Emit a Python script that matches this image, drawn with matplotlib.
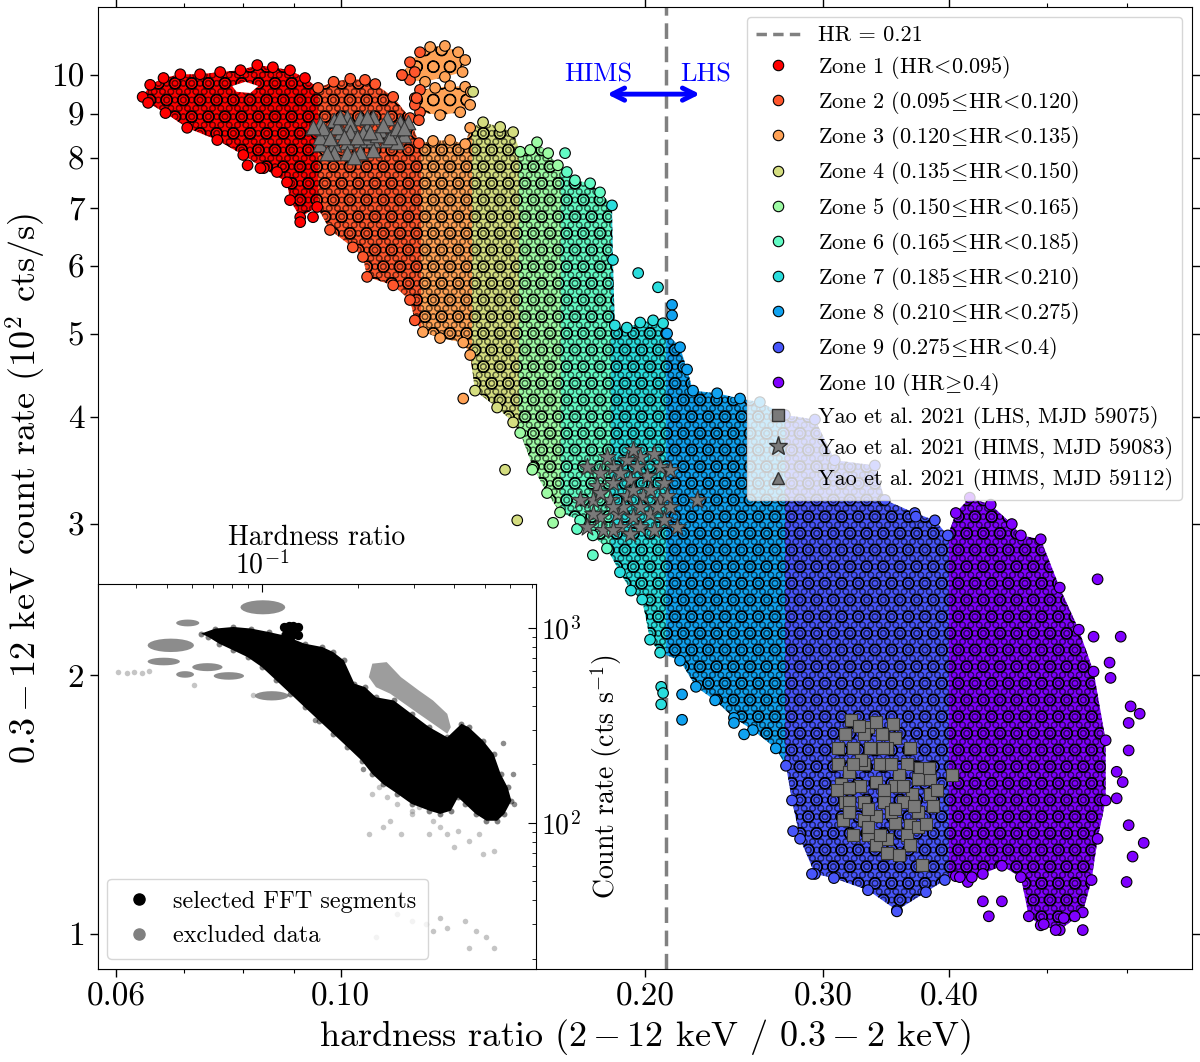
import numpy as np
import matplotlib
matplotlib.use('Agg')
import matplotlib.pyplot as plt
from matplotlib.patches import Polygon
from matplotlib.lines import Line2D
from matplotlib.ticker import NullFormatter, NullLocator

plt.rcParams.update({
    'font.family': ['serif'],
    'font.serif': ['cmr10', 'DejaVu Serif'],
    'mathtext.fontset': 'cm',
    'axes.formatter.use_mathtext': True,
    'axes.unicode_minus': False,
    'hatch.linewidth': 0.8,
})

# ---------------- data (main panel) ----------------
zone_edges = [0.095, 0.120, 0.135, 0.150, 0.165, 0.185, 0.210, 0.275, 0.4]
zone_labels = [r"Zone 1 (HR$\!<\!$0.095)", r"Zone 2 (0.095$\!\leq\!$HR$\!<\!$0.120)",
               r"Zone 3 (0.120$\!\leq\!$HR$\!<\!$0.135)", r"Zone 4 (0.135$\!\leq\!$HR$\!<\!$0.150)",
               r"Zone 5 (0.150$\!\leq\!$HR$\!<\!$0.165)", r"Zone 6 (0.165$\!\leq\!$HR$\!<\!$0.185)",
               r"Zone 7 (0.185$\!\leq\!$HR$\!<\!$0.210)", r"Zone 8 (0.210$\!\leq\!$HR$\!<\!$0.275)",
               r"Zone 9 (0.275$\!\leq\!$HR$\!<\!$0.4)", r"Zone 10 (HR$\!\geq\!$0.4)"]
hr_split = 0.21

# outline of the dense cloud: upper edge (left -> right)
up_hr = [0.0637, 0.0648, 0.0668, 0.0694, 0.0726, 0.0760, 0.0796, 0.0827, 0.0857, 0.0891,
         0.0922, 0.0950, 0.0984, 0.1022, 0.1057, 0.1082, 0.1127, 0.1171, 0.1195, 0.1234,
         0.1283, 0.1328, 0.1343, 0.1383, 0.1438, 0.1481, 0.1505, 0.1540, 0.1564, 0.1604,
         0.1640, 0.1674, 0.1705, 0.1765, 0.1805, 0.1855, 0.1859, 0.1867, 0.1919, 0.1978,
         0.2037, 0.2084, 0.2103, 0.2166, 0.2201, 0.2231, 0.2357, 0.2483, 0.2598, 0.2750,
         0.2945, 0.3081, 0.3376, 0.3454, 0.3697, 0.3870, 0.3986, 0.4059, 0.4190, 0.4395,
         0.4611, 0.4707, 0.4925, 0.5143, 0.5371, 0.5555, 0.5710, 0.5710, 0.5606, 0.5530, 0.5420]
up_rate = [9.43, 9.74, 9.92, 10.02, 10.02, 10.08, 10.13, 10.27, 10.21, 10.13,
           9.92, 9.66, 9.82, 9.90, 9.87, 9.76, 9.43, 8.91, 8.33, 8.38,
           8.40, 8.31, 8.68, 8.81, 8.70, 8.58, 8.14, 8.18, 8.35, 8.11,
           7.85, 7.71, 7.54, 7.48, 7.30, 7.05, 6.09, 5.11, 5.08, 5.15,
           5.18, 5.14, 5.00, 4.82, 4.54, 4.29, 4.26, 4.20, 4.16, 4.02,
           3.97, 3.56, 3.51, 3.20, 3.09, 3.03, 2.91, 3.09, 3.22, 3.16,
           3.00, 2.91, 2.88, 2.53, 2.26, 2.02, 1.68, 1.43, 1.29, 1.155, 1.059]
# lower edge (right -> left)
lo_hr = [0.5143, 0.4925, 0.4793, 0.4707, 0.4508, 0.4317, 0.4171, 0.4059, 0.3959, 0.3792,
         0.3549, 0.3323, 0.3075, 0.2945, 0.2847, 0.2795, 0.2757, 0.2694, 0.2557, 0.2449,
         0.2346, 0.2246, 0.2166, 0.2070, 0.2023, 0.1987, 0.1937, 0.1889, 0.1834, 0.1776,
         0.1725, 0.1648, 0.1600, 0.1550, 0.1505, 0.1481, 0.1428, 0.1358, 0.1343, 0.1322,
         0.1254, 0.1206, 0.1184, 0.1171, 0.1127, 0.1062, 0.1052, 0.1028, 0.0976, 0.0948,
         0.0912, 0.0891, 0.0885, 0.0839, 0.0801, 0.0755, 0.0705, 0.0671, 0.0645]
lo_rate = [1.010, 1.023, 1.048, 1.164, 1.200, 1.174, 1.149, 1.167, 1.155, 1.118,
           1.065, 1.124, 1.161, 1.174, 1.29, 1.43, 1.569, 1.644, 1.727, 1.784,
           1.87, 1.939, 2.08, 2.125, 2.20, 2.45, 2.51, 2.636, 2.81, 2.91,
           3.03, 3.095, 3.26, 3.49, 3.83, 3.94, 4.10, 4.29, 4.72, 4.88,
           4.94, 5.02, 5.18, 5.47, 5.69, 5.82, 6.14, 6.30, 6.60, 7.02,
           6.83, 7.15, 7.50, 7.79, 8.07, 8.40, 8.68, 9.03, 9.28]
# gap inside zone 1
hole_hr = [0.0781, 0.0805, 0.0829, 0.0814, 0.0789]
hole_rate = [9.71, 9.82, 9.71, 9.53, 9.56]
# two detached clumps above zone 3
clumpA_hr = [0.1150, 0.1171, 0.1198, 0.1226, 0.1268, 0.1307, 0.1328, 0.1320, 0.1268, 0.1212, 0.1171]
clumpA_rate = [10.0, 10.35, 10.63, 10.78, 10.81, 10.63, 10.41, 10.08, 9.95, 9.82, 9.87]
clumpB_hr = [0.1184, 0.1198, 0.1240, 0.1283, 0.1328, 0.1345, 0.1343, 0.1313, 0.1254, 0.1198, 0.1184]
clumpB_rate = [9.40, 9.61, 9.66, 9.71, 9.69, 9.56, 9.23, 9.05, 8.98, 9.05, 9.23]
# isolated points
out_hr = [0.0809, 0.0833, 0.0865, 0.0912, 0.0939, 0.1150, 0.1184, 0.1189, 0.1195,
          0.1322, 0.1454, 0.1495, 0.1352, 0.1547, 0.1622, 0.1667, 0.1713, 0.1776,
          0.1969, 0.2060, 0.2075, 0.2084, 0.2075, 0.2127, 0.2127, 0.2176, 0.2176,
          0.2449, 0.2506, 0.2802, 0.2925, 0.3549, 0.3706,
          0.5606, 0.5555, 0.5909, 0.5761, 0.5774, 0.6044, 0.6170, 0.6017, 0.6017,
          0.5855, 0.5936, 0.5855, 0.6017, 0.6227, 0.6071, 0.5989, 0.5322, 0.5190,
          0.5096, 0.5420, 0.4959, 0.4508, 0.4317, 0.4376, 0.4210, 0.4096]
out_rate = [7.85, 7.79, 7.71, 6.74, 6.83, 10.0, 10.08, 9.40, 8.86,
            4.20, 3.47, 3.03, 9.56, 3.47, 3.01, 8.11, 2.96, 2.76,
            5.88, 5.66, 1.939, 1.907, 1.850, 5.40, 5.25, 1.90, 1.775,
            1.76, 1.707, 1.317, 1.174, 1.062, 3.06,
            2.587, 2.218, 2.218, 2.069, 1.986, 1.840, 1.804, 1.76, 1.635,
            1.544, 1.502, 1.438, 1.338, 1.276, 1.230, 1.149, 1.048, 1.043,
            1.010, 1.010, 1.026, 1.091, 1.091, 1.048, 1.164, 1.164]

# Yao et al. 2021 points
sq_hr = [0.3196, 0.3323, 0.3517, 0.3153, 0.3293, 0.3431, 0.3532, 0.3103, 0.3210, 0.3338,
         0.3470, 0.3630, 0.3740, 0.3103, 0.3182, 0.3293, 0.3415, 0.3565, 0.3723, 0.3826,
         0.3124, 0.3263, 0.3384, 0.3532, 0.3672, 0.3826, 0.4022, 0.3153, 0.3293, 0.3446,
         0.3598, 0.3723, 0.3852, 0.3139, 0.3293, 0.3384, 0.3532, 0.3655, 0.3210, 0.3323,
         0.3470, 0.3630, 0.3384, 0.3470, 0.3655, 0.3757, 0.3723, 0.3501, 0.3182, 0.3446,
         0.3253, 0.3383, 0.3442, 0.3267, 0.3503, 0.3658, 0.3822, 0.3182, 0.3324, 0.3532,
         0.3691, 0.3889, 0.3789, 0.3324, 0.3182, 0.3565, 0.3413, 0.3595, 0.3211, 0.3099]
sq_rate = [1.775, 1.742, 1.756, 1.707, 1.707, 1.707, 1.689, 1.644, 1.644, 1.644,
           1.644, 1.577, 1.560, 1.577, 1.544, 1.577, 1.577, 1.530, 1.514, 1.514,
           1.494, 1.486, 1.502, 1.486, 1.453, 1.453, 1.530, 1.422, 1.422, 1.422,
           1.422, 1.386, 1.410, 1.356, 1.356, 1.371, 1.345, 1.338, 1.304, 1.304,
           1.290, 1.304, 1.269, 1.243, 1.269, 1.204, 1.331, 1.386, 1.478, 1.470,
           1.747, 1.765, 1.645, 1.593, 1.577, 1.645, 1.560, 1.424, 1.396, 1.396,
           1.410, 1.470, 1.344, 1.331, 1.386, 1.236, 1.304, 1.486, 1.577, 1.470]
st_hr = [0.1751, 0.1805, 0.1860, 0.1918, 0.1978, 0.2039, 0.2070, 0.2118, 0.1791, 0.1860,
         0.1932, 0.2008, 0.2086, 0.1778, 0.1847, 0.1918, 0.1993, 0.2070, 0.2118, 0.1805,
         0.1875, 0.1948, 0.2023, 0.2086, 0.1751, 0.1819, 0.1889, 0.1978, 0.2039, 0.2250,
         0.2150, 0.1948, 0.1903, 0.1833, 0.1889, 0.1963, 0.2023, 0.1948, 0.1860, 0.1778,
         0.1978, 0.2054, 0.1725, 0.1860, 0.1932, 0.2102, 0.1805]
st_rate = [3.50, 3.44, 3.50, 3.56, 3.59, 3.62, 3.50, 3.47, 3.32, 3.35,
           3.38, 3.41, 3.35, 3.20, 3.20, 3.23, 3.23, 3.20, 3.14, 3.06,
           3.08, 3.06, 3.08, 3.03, 2.98, 2.95, 2.98, 2.98, 2.95, 3.20,
           2.98, 3.66, 3.14, 3.59, 3.44, 3.50, 3.29, 3.29, 3.14, 3.08,
           3.14, 3.14, 3.20, 2.95, 2.92, 3.23, 3.26]
tr_hr = [0.0954, 0.0985, 0.1014, 0.1045, 0.1077, 0.1111, 0.1145, 0.1167, 0.0969, 0.1000,
         0.1030, 0.1061, 0.1094, 0.1128, 0.1154, 0.0954, 0.0985, 0.1014, 0.1045, 0.1077,
         0.1111, 0.1136, 0.0985, 0.1014, 0.1045, 0.1077, 0.0954, 0.1022, 0.1061,
         0.0961, 0.0991, 0.1022, 0.1053, 0.1086, 0.1119, 0.0976, 0.1007, 0.1037, 0.1069,
         0.1102, 0.1136, 0.0969, 0.1030, 0.0999, 0.1061, 0.0939, 0.1154]
tr_rate = [8.78, 8.86, 8.94, 8.90, 8.94, 8.90, 8.82, 8.82, 8.55, 8.59,
           8.63, 8.67, 8.63, 8.59, 8.51, 8.32, 8.32, 8.36, 8.40, 8.40,
           8.40, 8.36, 8.11, 8.11, 8.14, 8.18, 8.47, 8.78, 8.47,
           8.67, 8.70, 8.59, 8.55, 8.51, 8.47, 8.44, 8.47, 8.47, 8.59,
           8.74, 8.67, 8.11, 8.03, 8.94, 8.94, 8.70, 8.67]

# ---------------- data (inset) ----------------
blk_hr = [0.0642, 0.0712, 0.0811, 0.0922, 0.1047, 0.1163, 0.1356, 0.1543, 0.1668, 0.1802,
          0.1946, 0.2102, 0.2273, 0.2585, 0.2940, 0.3343, 0.3806, 0.4218, 0.4443, 0.4926,
          0.5320, 0.5600, 0.5890, 0.6050, 0.5748, 0.5457, 0.5051, 0.4675, 0.4328, 0.4113,
          0.3904, 0.3614, 0.3345, 0.2940, 0.2652, 0.2394, 0.2214, 0.2049, 0.1849, 0.1668,
          0.1505, 0.1357, 0.1224, 0.1105, 0.0996, 0.0898, 0.0811, 0.0731, 0.0677]
blk_rate = [939, 997, 1016, 997, 957, 921, 834, 801, 755, 684,
            519, 498, 442, 425.5, 363, 310, 275, 323, 310, 264.7,
            226, 178, 152, 129.9, 111, 102.4, 102.4, 111, 125, 135,
            115.3, 111, 115.3, 125, 141, 158, 178, 208.8, 245, 287,
            335.6, 393, 461, 539.5, 632, 711, 770.1, 834, 902]
blob_hr = [0.117, 0.121, 0.125, 0.129, 0.125, 0.119, 0.124, 0.129, 0.123]
blob_rate = [1017, 1030, 1030, 1017, 1005, 930, 935, 920, 910]
blk_pts_hr = [0.1466, 0.2075, 0.6128, 0.6183, 0.5674]
blk_pts_rate = [338, 189, 178, 125, 256]
band_hr = [0.2214, 0.2456, 0.2722, 0.3098, 0.3433, 0.3806, 0.3904, 0.3806, 0.3433, 0.3098,
           0.2794, 0.2519, 0.2273, 0.2158]
band_rate = [658, 670, 561, 479, 425.5, 363, 310, 287, 323, 363, 409, 461, 498, 561]
gclump_hr_lo = [0.0853, 0.0536, 0.0436, 0.0436, 0.0602, 0.0536, 0.0703, 0.0946]
gclump_hr_hi = [0.1180, 0.0634, 0.0610, 0.0551, 0.0750, 0.0610, 0.0876, 0.1208]
gclump_rate_lo = [1180, 1023, 755, 645, 602, 557, 544, 425.5]
gclump_rate_hi = [1394, 1109, 885, 706, 662, 602, 595, 475]
gpts_hr = [0.0351, 0.0375, 0.0395, 0.0420, 0.0442, 0.0610, 0.0934,
           0.2214, 0.2327, 0.2456, 0.2652, 0.2794, 0.2940, 0.3098, 0.2519, 0.2722, 0.2940,
           0.3433, 0.3614, 0.3806, 0.4113, 0.4443, 0.4800, 0.2158, 0.2394, 0.3345, 0.4006,
           0.4926, 0.5320, 0.2652, 0.2940, 0.3258, 0.3614, 0.3806, 0.4328, 0.4675, 0.5051,
           0.5320, 0.4443, 0.3433, 0.2273]
gpts_rate = [598, 590, 598, 592, 600, 510, 452,
             141, 152, 135, 125, 141, 115, 120, 102, 87.4, 111,
             102, 94.6, 87.4, 90.9, 80.8, 87.4, 87.4, 94.6, 87.4, 74.6,
             69.0, 71.7, 33.8, 31.3, 30.1, 32.5, 28.9, 31.3, 27.8, 25.7,
             22.7, 22.7, 27.8, 25.7]

# ---------------- figure ----------------
fig = plt.figure(figsize=(12, 10.62), dpi=100)
ax = fig.add_axes([0.0814, 0.0876, 0.9119, 0.9058])
ax.set_xscale('log')
ax.set_yscale('log')
ax.set_xlim(0.0575, 0.695)
ax.set_ylim(0.91, 12.0)

colors = plt.cm.rainbow(np.linspace(1, 0, 10))
bounds = [0.05] + zone_edges + [0.8]

cloud = Polygon(np.column_stack([up_hr + lo_hr, up_rate + lo_rate]), closed=True,
                transform=ax.transData, facecolor='none', edgecolor='none')
ax.add_patch(cloud)
for i in range(10):
    sp = ax.axvspan(bounds[i], bounds[i + 1], facecolor=colors[i], edgecolor='black',
                    hatch='O', linewidth=0, zorder=1)
    sp.set_clip_path(cloud)
    sp2 = ax.axvspan(bounds[i], bounds[i + 1], facecolor='none', edgecolor=(0, 0, 0, 0.5),
                     hatch='OO', linewidth=0, zorder=1.05)
    sp2.set_clip_path(cloud)
ax.add_patch(Polygon(np.column_stack([hole_hr, hole_rate]), closed=True,
                     facecolor='white', edgecolor='none', zorder=1.1))
for chr_, crt in [(clumpA_hr, clumpA_rate), (clumpB_hr, clumpB_rate)]:
    ax.add_patch(Polygon(np.column_stack([chr_, crt]), closed=True, facecolor=colors[2],
                         edgecolor='black', hatch='O', linewidth=0, zorder=1))

def zone_colors(h):
    return colors[np.digitize(h, zone_edges)]

all_hr = np.array(up_hr + lo_hr + clumpA_hr + clumpB_hr + out_hr)
all_rate = np.array(up_rate + lo_rate + clumpA_rate + clumpB_rate + out_rate)
ax.scatter(all_hr, all_rate, s=58, c=zone_colors(all_hr), edgecolors='black',
           linewidths=0.8, zorder=2)

ax.axvline(hr_split, color='gray', ls=(0, (4.5, 2.2)), lw=2.5, zorder=0.5)

ax.scatter(tr_hr, tr_rate, marker='^', s=110, c='#7a7a7a', edgecolors='#333333',
           linewidths=0.8, zorder=3)
ax.scatter(st_hr, st_rate, marker='*', s=180, c='#7a7a7a', edgecolors='#333333',
           linewidths=0.8, zorder=3)
ax.scatter(sq_hr, sq_rate, marker='s', s=75, c='#7a7a7a', edgecolors='#333333',
           linewidths=0.8, zorder=3)

ax.annotate('', xy=(0.1834, 9.5), xytext=(0.2267, 9.5),
            arrowprops=dict(arrowstyle='<->', color='blue', lw=3.5, mutation_scale=22,
                            shrinkA=0, shrinkB=0), zorder=4)
ax.text(0.180, 10.0, 'HIMS', color='blue', fontsize=19, ha='center', va='center', zorder=4)
ax.text(0.2296, 10.0, 'LHS', color='blue', fontsize=19, ha='center', va='center', zorder=4)

ax.set_xticks([0.06, 0.1, 0.2, 0.3, 0.4])
ax.set_xticklabels(['0.06', '0.10', '0.20', '0.30', '0.40'])
ax.xaxis.set_minor_formatter(NullFormatter())
ax.set_yticks(list(range(1, 11)))
ax.set_yticklabels([str(v) for v in range(1, 11)])
ax.yaxis.set_minor_locator(NullLocator())
ax.tick_params(which='both', direction='out', top=True, right=True, labelsize=24)
ax.tick_params(which='major', length=6, width=1)
ax.tick_params(which='minor', length=3, width=0.8)
ax.set_xlabel(r'hardness ratio ($2-12$ keV / $0.3-2$ keV)', fontsize=26, labelpad=4)
ax.set_ylabel(r'$0.3-12$ keV count rate ($10^2$ cts/s)', fontsize=26, labelpad=2)

handles = [Line2D([], [], color='gray', ls=(0, (3, 1.8)), lw=2.5)]
for i in range(10):
    handles.append(Line2D([], [], ls='', marker='o', ms=7.5, mfc=colors[i], mec='black', mew=0.8))
handles += [Line2D([], [], ls='', marker='s', ms=9, mfc='#7a7a7a', mec='#333333'),
            Line2D([], [], ls='', marker='*', ms=14, mfc='#7a7a7a', mec='#333333'),
            Line2D([], [], ls='', marker='^', ms=9, mfc='#7a7a7a', mec='#333333')]
labels = ['HR = 0.21'] + zone_labels + ['Yao et al. 2021 (LHS, MJD 59075)',
                                        'Yao et al. 2021 (HIMS, MJD 59083)',
                                        'Yao et al. 2021 (HIMS, MJD 59112)']
ax.legend(handles, labels, loc='upper right', fontsize=16, framealpha=0.8,
          borderaxespad=0.45, handlelength=2.0, handletextpad=0.8, labelspacing=0.37,
          borderpad=0.4)

# ---------------- inset ----------------
axin = fig.add_axes([0.0814, 0.0876, 0.3653, 0.3625])
axin.set_xscale('log')
axin.set_yscale('log')
axin.set_xlim(0.0304, 0.723)
axin.set_ylim(17.7, 1690)
axin.set_facecolor('white')

axin.add_patch(Polygon(np.column_stack([band_hr, band_rate]), closed=True,
                       facecolor='#8c8c8c', edgecolor='none', alpha=0.85))
ang = np.linspace(0, 2 * np.pi, 25)
for a, b, c, d in zip(gclump_hr_lo, gclump_hr_hi, gclump_rate_lo, gclump_rate_hi):
    lx, hx = np.log10(a), np.log10(b)
    ly, hy = np.log10(c), np.log10(d)
    ex = 10 ** ((lx + hx) / 2 + (hx - lx) / 2 * np.cos(ang))
    ey = 10 ** ((ly + hy) / 2 + (hy - ly) / 2 * np.sin(ang))
    axin.add_patch(Polygon(np.column_stack([ex, ey]), closed=True,
                           facecolor='#8c8c8c', edgecolor='none'))
axin.scatter(gpts_hr, gpts_rate, s=16, color='gray', alpha=0.45, linewidths=0)
axin.add_patch(Polygon(np.column_stack([blk_hr, blk_rate]), closed=True,
                       facecolor='black', edgecolor='none'))
axin.scatter(blk_hr, blk_rate, s=18, color='black', alpha=0.5, linewidths=0)
axin.scatter(blob_hr, blob_rate, s=45, color='black', linewidths=0)
axin.scatter(blk_pts_hr, blk_pts_rate, s=16, color='black', alpha=0.45, linewidths=0)

axin.xaxis.tick_top()
axin.xaxis.set_label_position('top')
axin.yaxis.tick_right()
axin.yaxis.set_label_position('right')
axin.tick_params(which='both', direction='in', labelsize=20)
axin.tick_params(which='major', length=6)
axin.tick_params(which='minor', length=3)
axin.xaxis.set_minor_formatter(NullFormatter())
axin.yaxis.set_minor_formatter(NullFormatter())
axin.set_xlabel('Hardness ratio', fontsize=20, labelpad=4)
axin.set_ylabel(r'Count rate (cts s$^{-1}$)', fontsize=20, labelpad=5)
ih = [Line2D([], [], ls='', marker='o', ms=8, mfc='black', mec='black'),
      Line2D([], [], ls='', marker='o', ms=8, mfc='gray', mec='gray')]
axin.legend(ih, ['selected FFT segments', 'excluded data'], loc='lower left',
            fontsize=17.5, framealpha=0.8, handletextpad=0.6, borderaxespad=0.4,
            handlelength=1.6, labelspacing=0.5, borderpad=0.5)

fig.savefig('out.png', dpi=100)
